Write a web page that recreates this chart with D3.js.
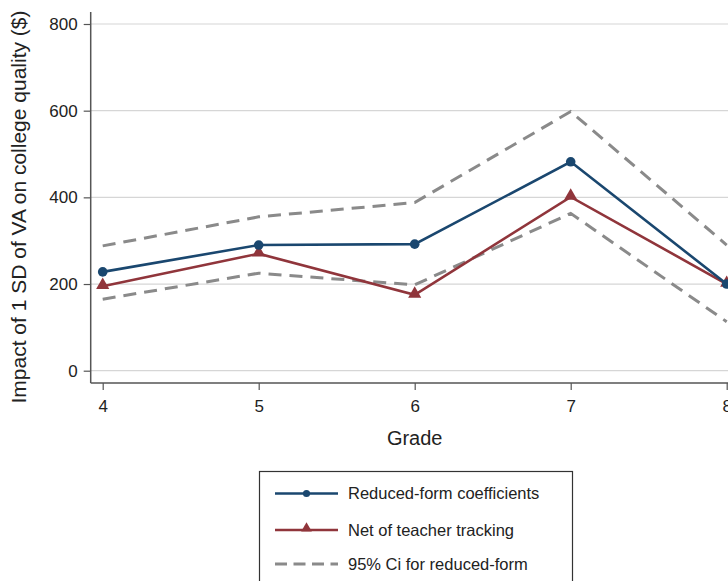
<!DOCTYPE html>
<html>
<head>
<meta charset="utf-8">
<script src="https://cdn.jsdelivr.net/npm/d3@7"></script>
<style>
  html, body { margin: 0; padding: 0; background: #fff; overflow: hidden; }
  svg { display: block; font-family: "Liberation Sans", Arial, Helvetica, sans-serif; }
</style>
</head>
<body>
<svg id="chart" width="728" height="581"></svg>
<script>
// Grades on the x axis
const grades = [4, 5, 6, 7, 8];
// Impact of 1 SD of VA on college quality ($)
const reducedForm = [228, 290, 292, 482, 200];
const netOfTracking = [195, 270, 175, 401, 200];
const ciUpper = [288, 355, 388, 598, 290];
const ciLower = [165, 225, 198, 363, 113];
const yTicks = [0, 200, 400, 600, 800];

const seriesNames = ["Reduced-form coefficients", "Net of teacher tracking", "95% Ci for reduced-form"];

const blue = "#1a476f";
const red = "#90353b";
const gray = "#8a8a8a";

const svg = d3.select("#chart");

const plot = { left: 90.7, right: 738.7, top: 12, bottom: 383 };

const x = d3.scaleLinear().domain([4, 8]).range([102.7, 726.7]);
const y = d3.scaleLinear().domain([0, 800]).range([370.7, 24]);

// horizontal grid
svg.append("g")
  .selectAll("line")
  .data(yTicks)
  .join("line")
  .attr("x1", plot.left).attr("x2", plot.right)
  .attr("y1", d => y(d)).attr("y2", d => y(d))
  .attr("stroke", "#d6d6d6").attr("stroke-width", 1.2);

// y axis
const yAxis = svg.append("g")
  .attr("transform", `translate(${plot.left},0)`)
  .call(d3.axisLeft(y).tickValues(yTicks).tickSize(7).tickPadding(6).tickFormat(d3.format("d")));
yAxis.select(".domain").remove();
yAxis.selectAll(".tick line").attr("stroke", "#555").attr("stroke-width", 1.2);
yAxis.selectAll(".tick text").attr("font-size", 17).attr("fill", "#222")
  .attr("font-family", "Liberation Sans, Arial, sans-serif");
svg.append("line")
  .attr("x1", plot.left).attr("x2", plot.left)
  .attr("y1", plot.top).attr("y2", plot.bottom)
  .attr("stroke", "#555").attr("stroke-width", 1.5);

// x axis
const xAxis = svg.append("g")
  .attr("transform", `translate(0,${plot.bottom})`)
  .call(d3.axisBottom(x).tickValues(grades).tickSize(7).tickPadding(10).tickFormat(d3.format("d")));
xAxis.select(".domain").remove();
xAxis.selectAll(".tick line").attr("stroke", "#555").attr("stroke-width", 1.2);
xAxis.selectAll(".tick text").attr("font-size", 17).attr("fill", "#222")
  .attr("font-family", "Liberation Sans, Arial, sans-serif");
svg.append("line")
  .attr("x1", plot.left).attr("x2", plot.right)
  .attr("y1", plot.bottom).attr("y2", plot.bottom)
  .attr("stroke", "#555").attr("stroke-width", 1.5);

// axis titles
svg.append("text")
  .attr("x", (plot.left + plot.right) / 2)
  .attr("y", 445)
  .attr("text-anchor", "middle")
  .attr("font-size", 20)
  .attr("fill", "#222")
  .text("Grade");

svg.append("text")
  .attr("transform", "translate(26,207) rotate(-90)")
  .attr("text-anchor", "middle")
  .attr("font-size", 21)
  .attr("fill", "#222")
  .text("Impact of 1 SD of VA on college quality ($)");

const line = d3.line().x((d, i) => x(grades[i])).y(d => y(d));

// confidence band edges
[ciUpper, ciLower].forEach(s => {
  svg.append("path")
    .attr("d", line(s))
    .attr("fill", "none")
    .attr("stroke", gray)
    .attr("stroke-width", 3)
    .attr("stroke-dasharray", "13,8");
});

// net of teacher tracking
svg.append("path")
  .attr("d", line(netOfTracking))
  .attr("fill", "none").attr("stroke", red).attr("stroke-width", 2.6);

const tri = d3.symbol().type(d3.symbolTriangle).size(75);
svg.append("g").selectAll("path")
  .data(netOfTracking)
  .join("path")
  .attr("transform", (d, i) => `translate(${x(grades[i])},${y(d) - 1})`)
  .attr("d", tri)
  .attr("fill", red);

// reduced-form coefficients
svg.append("path")
  .attr("d", line(reducedForm))
  .attr("fill", "none").attr("stroke", blue).attr("stroke-width", 2.6);

svg.append("g").selectAll("circle")
  .data(reducedForm)
  .join("circle")
  .attr("cx", (d, i) => x(grades[i]))
  .attr("cy", d => y(d))
  .attr("r", 4.8)
  .attr("fill", blue);

// legend
const lg = svg.append("g");
lg.append("rect")
  .attr("x", 259.5).attr("y", 471.5)
  .attr("width", 313).attr("height", 140)
  .attr("fill", "#fff").attr("stroke", "#333").attr("stroke-width", 1.2);

const rows = [493.5, 530, 564];
const lx1 = 275, lx2 = 338, lxm = 306.5, tx = 348;

lg.append("line").attr("x1", lx1).attr("x2", lx2).attr("y1", rows[0]).attr("y2", rows[0])
  .attr("stroke", blue).attr("stroke-width", 2.6);
lg.append("circle").attr("cx", lxm).attr("cy", rows[0]).attr("r", 3.6).attr("fill", blue);

lg.append("line").attr("x1", lx1).attr("x2", lx2).attr("y1", rows[1]).attr("y2", rows[1])
  .attr("stroke", red).attr("stroke-width", 2.6);
lg.append("path").attr("transform", `translate(${lxm},${rows[1] - 1.5})`)
  .attr("d", d3.symbol().type(d3.symbolTriangle).size(50)).attr("fill", red);

lg.append("line").attr("x1", lx1).attr("x2", lx2).attr("y1", rows[2]).attr("y2", rows[2])
  .attr("stroke", gray).attr("stroke-width", 3).attr("stroke-dasharray", "12,6.5");

lg.selectAll("text.lab")
  .data(seriesNames)
  .join("text")
  .attr("class", "lab")
  .attr("x", tx)
  .attr("y", (d, i) => rows[i])
  .attr("dy", "0.35em")
  .attr("font-size", 16.5)
  .attr("fill", "#222")
  .text(d => d);
</script>
</body>
</html>
